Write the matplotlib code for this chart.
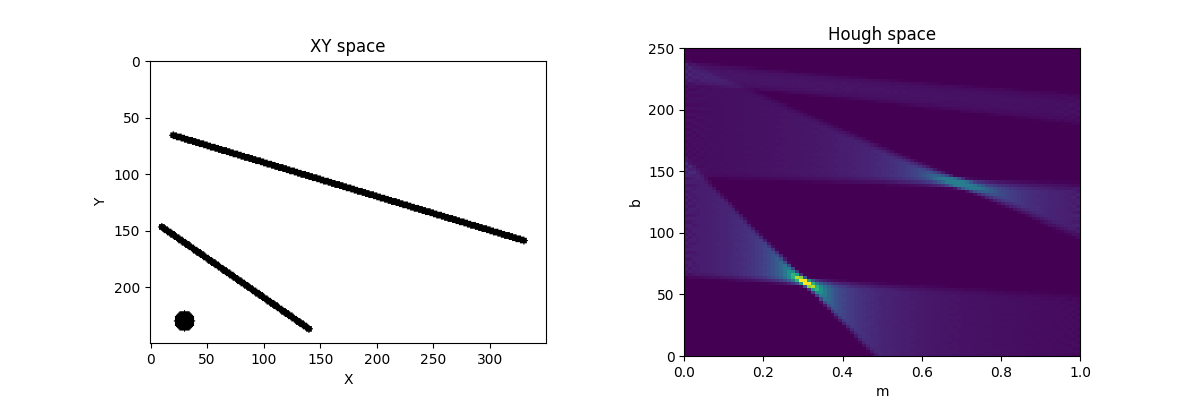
import numpy as np
import matplotlib
matplotlib.use("Agg")
import matplotlib.pyplot as plt

# Geometry (image pixel units)
segment_starts = [(20, 66), (10, 147)]
segment_ends = [(330, 159), (140, 237)]
segment_half_widths = [3.0, 3.0]
blob_center = (30, 230)
blob_radius = 9.0

image_width = 350
image_height = 250
n_slopes = 100
n_intercepts = 100
slope_range = (0.0, 1.0)
intercept_range = (0.0, 250.0)

# Rasterise the shapes into the binary XY image
yy, xx = np.mgrid[0:image_height, 0:image_width]
mask = (xx - blob_center[0]) ** 2 + (yy - blob_center[1]) ** 2 <= blob_radius ** 2
for (x0, y0), (x1, y1), hw in zip(segment_starts, segment_ends, segment_half_widths):
    dx, dy = x1 - x0, y1 - y0
    t = np.clip(((xx - x0) * dx + (yy - y0) * dy) / (dx * dx + dy * dy), 0, 1)
    mask |= (xx - x0 - t * dx) ** 2 + (yy - y0 - t * dy) ** 2 <= hw ** 2

# Hough accumulator: the heatmap is derived from the XY image, b = y - m x
ys, xs = np.nonzero(mask)
slopes = np.linspace(*slope_range, n_slopes, endpoint=False)
accumulator = np.zeros((n_intercepts, n_slopes))
bin_size = (intercept_range[1] - intercept_range[0]) / n_intercepts
for j, m in enumerate(slopes):
    idx = np.floor((ys - m * xs - intercept_range[0]) / bin_size).astype(int)
    idx = idx[(idx >= 0) & (idx < n_intercepts)]
    accumulator[:, j] = np.bincount(idx, minlength=n_intercepts)

fig, (ax1, ax2) = plt.subplots(1, 2, figsize=(12, 4), dpi=100)
fig.subplots_adjust(wspace=0.35)

ax1.imshow(mask, cmap="gray_r", vmin=0, vmax=1)
ax1.set_title("XY space")
ax1.set_xlabel("X")
ax1.set_ylabel("Y")

ax2.imshow(accumulator, origin="lower", aspect="auto", cmap="viridis",
           extent=[slope_range[0], slope_range[1], intercept_range[0], intercept_range[1]])
ax2.set_title("Hough space")
ax2.set_xlabel("m")
ax2.set_ylabel("b")

fig.savefig("out.png", dpi=100)
